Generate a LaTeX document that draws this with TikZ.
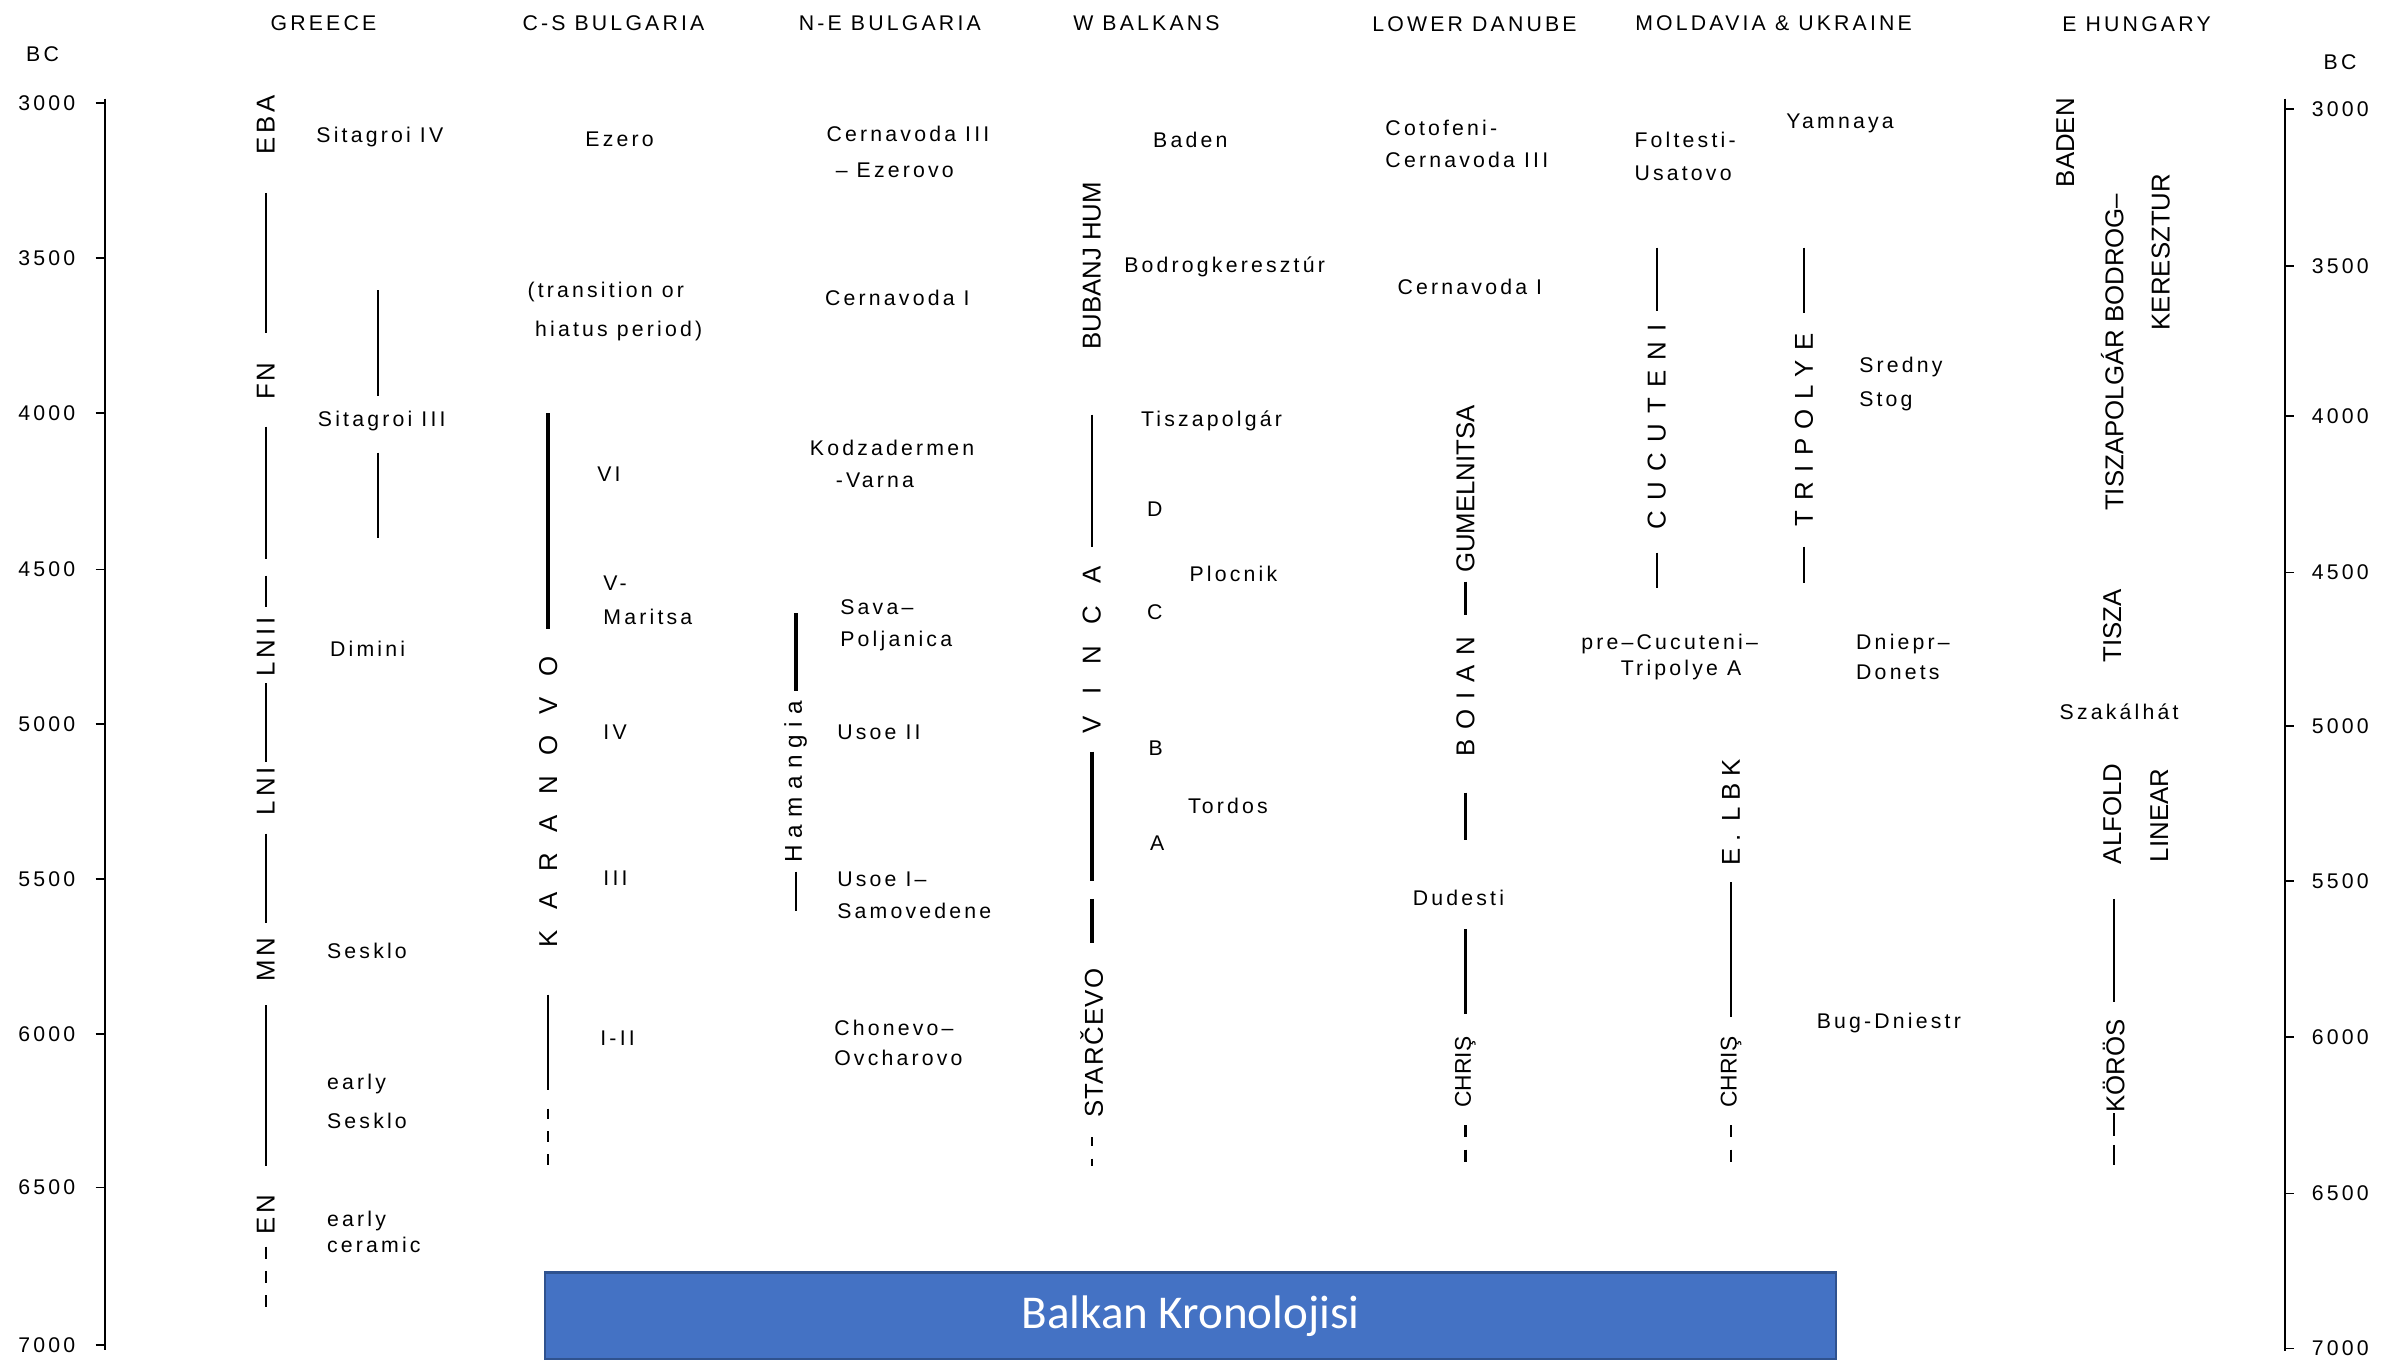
\documentclass[tikz,border=0pt]{standalone}
\usepackage{fontspec}
\setmainfont{Liberation Sans}[LetterSpace=15]
\newfontfamily\vfont{Liberation Sans}
\newfontfamily\titlefont{Carlito}
\definecolor{boxblue}{HTML}{4472C4}
\definecolor{boxedge}{HTML}{2F528F}
\tikzset{
  lbl/.style={inner sep=0pt,anchor=west,font=\fontsize{7}{8}\selectfont},
  hdr/.style={inner sep=0pt,font=\fontsize{7}{8}\selectfont},
  vlbl/.style={inner sep=0pt,rotate=90,font=\vfont\fontsize{8.5}{10}\selectfont\addfontfeature{LetterSpace=#1}},
  vlbl/.default=0,
  bar/.style={line width=0.75pt},
  thickbar/.style={line width=1.3pt},
  gap/.style={line width=0.75pt,dash pattern=on 4pt off 4pt},
}
\begin{document}
\begin{tikzpicture}[x=0.5pt,y=-0.5pt,line cap=butt]
\useasboundingbox (0,0) rectangle (1568,897);
% time axes
\draw[line width=0.6pt] (69,65)--(69,889);
\draw[line width=0.6pt] (1505,65)--(1505,890);
\foreach \yv/\lab in {68/3000,170/3500,272/4000,375/4500,477/5000,579/5500,681/6000,782/6500,886/7000}{
  \draw[line width=0.6pt] (63,\yv)--(69,\yv);
  \node[hdr,anchor=east] (l\lab) at (50,\yv) {\lab};
}
\foreach \yv/\lab in {72/3000,175/3500,274/4000,377/4500,478/5000,580/5500,683/6000,786/6500,888/7000}{
  \draw[line width=0.6pt] (1505,\yv)--(1511,\yv);
  \node[hdr,anchor=west] (r\lab) at (1522,\yv) {\lab};
}
\node[hdr] (bcl) at (28,36) {BC};
\node[hdr] (bcr) at (1541,41) {BC};
% column heads
\node[hdr] (greece) at (213,15) {GREECE};
\node[hdr] (csbul) at (404,15) {C-S BULGARIA};
\node[hdr] (nebul) at (586,15) {N-E BULGARIA};
\node[hdr] (wbalk) at (755,15) {W BALKANS};
\node[hdr] (lowdan) at (971,16) {LOWER DANUBE};
\node[hdr] (molukr) at (1168,15) {MOLDAVIA \& UKRAINE};
\node[hdr] (ehun) at (1407,16) {E HUNGARY};

% Greece
\node[vlbl=15] (eba) at (175,82) {EBA};
\node[vlbl=10] (fn) at (175,251) {FN};
\node[vlbl=15] (lnii) at (175,426) {LNII};
\node[vlbl=15] (lni) at (175,521) {LNI};
\node[vlbl=15] (mn) at (175,632) {MN};
\node[vlbl=15] (en) at (175,800) {EN};
\draw[bar] (175,127)--(175,219);
\draw[bar] (175,281)--(175,368);
\draw[bar] (175,379)--(175,400);
\draw[bar] (175,450)--(175,502);
\draw[bar] (175,549)--(175,608);
\draw[bar] (175,662)--(175,768);
\draw[gap] (175,821)--(175,863);
\draw[bar] (249,191)--(249,261);
\draw[bar] (249,298)--(249,354);
\node[lbl] (sitiv) at (208,90) {Sitagroi IV};
\node[lbl] (sitiii) at (209,277) {Sitagroi III};
\node[lbl] (dimini) at (217,427) {Dimini};
\node[lbl] (sesklo) at (215,626) {Sesklo};
\node[lbl] (earlya) at (215,714) {early};
\node[lbl] (sesklob) at (215,738) {Sesklo};
\node[lbl] (earlyb) at (215,804) {early};
\node[lbl] (ceramic) at (215,820) {ceramic};

% C-S Bulgaria
\node[lbl,anchor=center] (ezero) at (408,92) {Ezero};
\node[lbl] (transa) at (347,192) {(transition or};
\node[lbl] (transb) at (352,218) {hiatus period)};
\draw[thickbar] (361,272)--(361,414);
\node[vlbl=80] (karanovo) at (361,528) {KARANOVO};
\draw[bar] (361,655)--(361,718);
\draw[gap,dash pattern=on 3.5pt off 4pt] (361,730)--(361,767);
\node[lbl] (kvi) at (393,312) {VI};
\node[lbl] (kva) at (397,384) {V-};
\node[lbl] (maritsa) at (397,406) {Maritsa};
\node[lbl] (kiv) at (397,482) {IV};
\node[lbl] (kiii) at (397,578) {III};
\node[lbl] (kiandii) at (395,684) {I-II};

% N-E Bulgaria
\node[lbl] (cerniiia) at (544,88) {Cernavoda III};
\node[lbl] (ezerovo) at (550,112) {– Ezerovo};
\node[lbl] (cernia) at (543,196) {Cernavoda I};
\node[lbl] (kodza) at (533,295) {Kodzadermen};
\node[lbl] (varna) at (550,316) {-Varna};
\node[lbl] (sava) at (553,400) {Sava–};
\node[lbl] (poljan) at (553,422) {Poljanica};
\node[lbl] (usoeii) at (551,482) {Usoe II};
\node[lbl] (usoei) at (551,579) {Usoe I–};
\node[lbl] (samov) at (551,600) {Samovedene};
\node[lbl] (chonevo) at (549,677) {Chonevo–};
\node[lbl] (ovchar) at (549,697) {Ovcharovo};
\draw[thickbar] (524,404)--(524,455);
\node[vlbl=30,font=\vfont\fontsize{8}{10}\selectfont\addfontfeature{LetterSpace=30}] (hamangia) at (524,515) {Hamangia};
\draw[bar] (524,574)--(524,600);

% W Balkans
\node[vlbl] (bubanj) at (719,175) {BUBANJ HUM};
\draw[bar] (719,273)--(719,360);
\node[vlbl=85] (vinca) at (719,428) {VINCA};
\draw[thickbar] (719,495)--(719,580);
\draw[thickbar] (719,592)--(719,621);
\node[vlbl=5] (starcevo) at (719,687) {STARČEVO};
\draw[gap,dash pattern=on 3pt off 4pt] (719,749)--(719,768);
\node[lbl] (badenw) at (759,92) {Baden};
\node[lbl] (bodrog) at (740,176) {Bodrogkeresztúr};
\node[lbl] (tiszap) at (751,277) {Tiszapolgár};
\node[lbl] (vd) at (755,335) {D};
\node[lbl] (plocnik) at (783,378) {Plocnik};
\node[lbl] (vc) at (755,403) {C};
\node[lbl] (vb) at (756,493) {B};
\node[lbl] (tordos) at (782,531) {Tordos};
\node[lbl] (va) at (757,555) {A};

% Lower Danube
\node[lbl] (cotofeni) at (912,84) {Cotofeni-};
\node[lbl] (cerniiib) at (912,105) {Cernavoda III};
\node[lbl] (cernib) at (920,189) {Cernavoda I};
\node[vlbl] (gumel) at (965,322) {GUMELNITSA};
\draw[bar] (965,383)--(965,405);
\node[vlbl=38] (boian) at (965,459) {BOIAN};
\draw[bar] (965,522)--(965,553);
\node[lbl] (dudesti) at (930,591) {Dudesti};
\draw[bar] (965,612)--(965,668);
\node[vlbl,font=\vfont\fontsize{7.5}{9}\selectfont] (chrisa) at (965,706) {CHRIŞ};
\draw[gap] (965,741)--(965,767);

% Moldavia & Ukraine
\node[lbl] (foltesti) at (1076,92) {Foltesti-};
\node[lbl] (usatovo) at (1076,114) {Usatovo};
\node[lbl] (yamnaya) at (1176,81) {Yamnaya};
\draw[bar] (1091,163)--(1091,205);
\node[vlbl=40] (cucuteni) at (1091,281) {CUCUTENI};
\draw[bar] (1091,364)--(1091,387);
\draw[bar] (1188,163)--(1188,206);
\node[vlbl=37] (tripolye) at (1188,283) {TRIPOLYE};
\draw[bar] (1188,360)--(1188,384);
\node[lbl] (sredny) at (1224,242) {Sredny};
\node[lbl] (stog) at (1224,264) {Stog};
\node[lbl] (precuc) at (1041,424) {pre–Cucuteni–};
\node[lbl] (tripa) at (1067,441) {Tripolye A};
\node[lbl] (dniepr) at (1222,424) {Dniepr–};
\node[lbl] (donets) at (1222,443) {Donets};
\node[vlbl=25] (elbk) at (1140,535) {E. LBK};
\draw[bar] (1140,581)--(1140,670);
\node[vlbl,font=\vfont\fontsize{7.5}{9}\selectfont] (chrisb) at (1140,706) {CHRIŞ};
\draw[gap] (1140,741)--(1140,767);
\node[lbl] (bugdn) at (1196,674) {Bug-Dniestr};

% E Hungary
\node[vlbl] (badenh) at (1360,94) {BADEN};
\node[vlbl] (tiszapol) at (1391,232) {TISZAPOLGÁR BODROG–};
\node[vlbl] (kereszt) at (1423,166) {KERESZTUR};
\node[vlbl] (tisza) at (1391,412) {TISZA};
\node[lbl] (szakal) at (1356,469) {Szakálhát};
\node[vlbl] (alfold) at (1391,536) {ALFOLD};
\node[vlbl] (linear) at (1422,537) {LINEAR};
\draw[bar] (1392,592)--(1392,660);
\node[vlbl] (koros) at (1392,702) {KÖRÖS};
\draw[bar] (koros.west)--(1392,748);
\draw[bar] (1392,754)--(1392,767);

% title box
\node[draw=boxedge,line width=0.8pt,fill=boxblue,minimum width=425pt,minimum height=28.5pt,inner sep=0pt,
  text=white,font=\titlefont\fontsize{15.5}{18}\selectfont] (title) at (784,866.5) {Balkan Kronolojisi};
\end{tikzpicture}
\end{document}
